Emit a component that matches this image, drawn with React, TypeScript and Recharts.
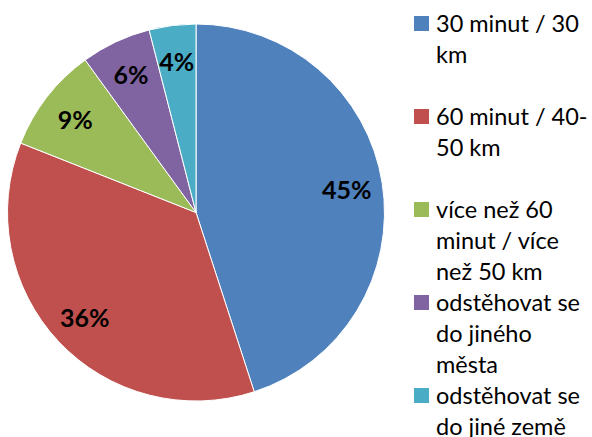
import { PieChart, Pie, Cell, Legend } from "recharts";

const categories = [
  "30 minut / 30 km",
  "60 minut / 40-50 km",
  "více než 60 minut / více než 50 km",
  "odstěhovat se do jiného města",
  "odstěhovat se do jiné země",
];
// legend text as it wraps in the original
const legendLines = [
  ["30 minut / 30", "km"],
  ["60 minut / 40-", "50 km"],
  ["více než 60", "minut / více", "než 50 km"],
  ["odstěhovat se", "do jiného", "města"],
  ["odstěhovat se", "do jiné země"],
];
const shares = [45, 36, 9, 6, 4];
const colors = ["#4F81BD", "#C0504D", "#9BBB59", "#8064A2", "#4BACC6"];

const data = categories.map((name, i) => ({ name, value: shares[i] }));

const RADIAN = Math.PI / 180;
const FONT = "Lato, 'DejaVu Sans', sans-serif";

const renderLabel = (props: any) => {
  const { cx, cy, midAngle, outerRadius, value } = props;
  const r = outerRadius * 0.81;
  const x = cx + r * Math.cos(-midAngle * RADIAN);
  const y = cy + r * Math.sin(-midAngle * RADIAN);
  return (
    <text
      x={x}
      y={y}
      fill="#000"
      textAnchor="middle"
      dominantBaseline="central"
      style={{ fontFamily: FONT, fontWeight: 700, fontSize: 25 }}
    >
      {`${value}%`}
    </text>
  );
};

const CustomLegend = () => (
  <div style={{ position: "relative", width: 178, height: 437, fontFamily: FONT }}>
    {data.map((item, i) => {
      const center = 23 + i * 93;
      return (
        <div key={item.name}>
          <div
            style={{
              position: "absolute",
              left: 0,
              top: center - 7.5,
              width: 15,
              height: 15,
              backgroundColor: colors[i],
            }}
          />
          <div
            style={{
              position: "absolute",
              left: 22,
              top: center - 15,
              width: 156,
              fontSize: 23.5,
              lineHeight: "31px",
              color: "#000",
              textAlign: "left",
              whiteSpace: "nowrap",
            }}
          >
            {legendLines[i].map((line) => (
              <div key={line}>{line}</div>
            ))}
          </div>
        </div>
      );
    })}
  </div>
);

export default function App() {
  return (
    <div style={{ position: "absolute", left: 0, top: 0, width: 592, height: 437, background: "#fff" }}>
      <PieChart width={592} height={437} margin={{ top: 0, right: 0, bottom: 0, left: 0 }}>
        <Pie
          data={data}
          dataKey="value"
          nameKey="name"
          cx={196}
          cy={212.5}
          outerRadius={188.5}
          startAngle={90}
          endAngle={-270}
          stroke="#fff"
          strokeWidth={1}
          label={renderLabel}
          labelLine={false}
          isAnimationActive={false}
        >
          {data.map((d, i) => (
            <Cell key={d.name} fill={colors[i]} />
          ))}
        </Pie>
        <Legend
          layout="vertical"
          verticalAlign="top"
          align="right"
          content={() => <CustomLegend />}
          wrapperStyle={{ left: 414, top: 0, width: 178 }}
        />
      </PieChart>
    </div>
  );
}
